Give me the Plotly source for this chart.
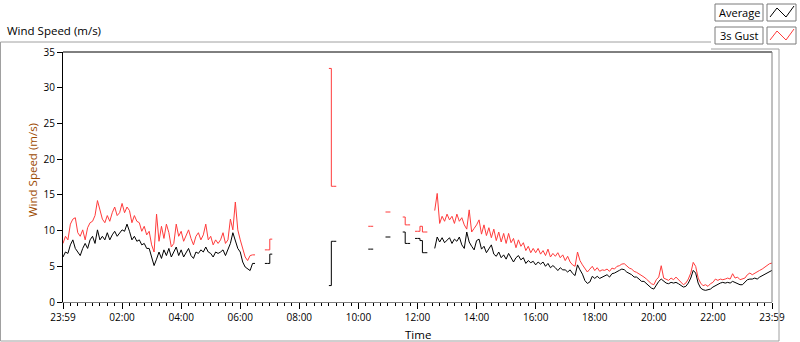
import plotly.graph_objects as go

# ---------------- data (5-minute samples, minutes since 23:59) ----------------
SAMPLE_MIN = 5

seg_starts = [0, 410, 540, 620, 655, 690, 715, 755]
seg_dense = [True, False, False, False, False, False, False, True]

avg_segs = [
    [6.3, 7.0, 6.8, 8.0, 8.7, 7.5, 7.0, 6.5, 7.5, 8.2, 7.5, 8.7, 9.2, 8.2, 10.1, 8.7, 9.2, 8.7, 9.7, 8.7,
     9.4, 9.9, 9.2, 9.7, 10.1, 9.9, 10.9, 9.9, 8.7, 9.2, 8.5, 8.7, 8.0, 8.2, 7.5, 7.5, 6.3, 5.1, 6.0, 7.0,
     6.1, 7.3, 6.5, 7.5, 6.3, 7.0, 7.7, 6.5, 7.3, 6.3, 7.0, 7.5, 6.5, 6.1, 7.0, 6.8, 7.3, 7.0, 7.7, 7.0,
     6.8, 6.3, 7.0, 6.8, 7.0, 7.3, 6.5, 7.3, 8.2, 9.7, 8.7, 7.5, 7.0, 5.6, 4.9, 4.6, 4.4, 5.4, 5.4],
    [5.4, 5.4, 6.7, 6.7],
    [2.3, 8.5, 8.5, 8.5],
    [7.4, 7.4, 7.4],
    [9.1, 9.1, 9.1],
    [9.8, 8.2, 8.2, 8.2],
    [8.9, 8.9, 8.6, 6.9, 6.9, 6.9],
    [7.5, 9.1, 8.4, 9.0, 8.3, 8.6, 9.0, 8.2, 8.8, 8.5, 9.1, 8.0, 7.5, 9.8, 8.4, 7.8, 7.3, 8.6, 8.8, 7.4,
     7.8, 6.9, 7.4, 8.0, 6.7, 6.4, 7.0, 6.2, 6.6, 6.0, 6.8, 6.1, 5.6, 6.2, 6.5, 5.9, 6.2, 5.4, 5.8, 5.5,
     5.7, 5.2, 5.6, 5.3, 5.6, 5.0, 5.4, 4.8, 5.1, 4.8, 4.4, 4.8, 4.5, 4.5, 4.2, 4.5, 4.0, 3.7, 5.2, 4.5,
     3.9, 3.0, 2.6, 2.8, 3.6, 3.3, 3.6, 3.3, 3.5, 3.59, 3.82, 3.49, 3.96, 4.05, 4.19, 4.43, 4.61, 4.52, 4.19,
     4.05, 3.82, 3.49, 3.49, 3.21, 2.89, 2.89, 2.56, 2.19, 1.95, 1.81, 2.42, 2.89, 3.21, 2.89, 2.65, 2.56, 2.75, 2.65,
     2.75, 2.56, 2.28, 2.09, 2.19, 2.65, 3.35, 4.43, 4.05, 2.65, 1.95, 1.72, 1.63, 1.72, 1.81, 2.09, 2.28, 2.56, 2.65,
     2.75, 2.65, 2.75, 2.65, 2.89, 2.75, 2.65, 2.42, 2.42, 2.75, 3.12, 3.21, 3.21, 3.35, 3.21, 3.49, 3.68, 3.96, 4.05,
     4.29, 4.43],
]

gust_segs = [
    [8.2, 9.2, 8.7, 10.9, 11.6, 11.8, 9.7, 9.2, 10.1, 8.7, 10.4, 11.1, 11.3, 12.1, 14.2, 12.8, 11.6, 11.1, 12.1, 11.3,
     12.5, 13.3, 12.1, 12.5, 13.8, 12.5, 13.3, 12.8, 11.1, 12.1, 11.3, 11.1, 9.9, 10.6, 9.4, 9.9, 8.0, 7.0, 12.3, 8.5,
     10.6, 8.9, 10.9, 9.7, 7.7, 8.2, 10.9, 9.2, 9.9, 8.5, 9.2, 10.1, 8.9, 8.0, 9.2, 9.7, 8.7, 9.4, 10.9, 8.7,
     9.2, 8.0, 8.7, 8.2, 8.7, 9.7, 8.2, 8.7, 11.6, 10.1, 14.0, 10.1, 8.7, 7.3, 6.3, 5.8, 6.5, 6.6, 6.6],
    [7.3, 7.3, 8.8, 8.8],
    [32.7, 16.2, 16.2, 16.2],
    [10.6, 10.6, 10.6],
    [12.6, 12.6, 12.6],
    [11.9, 10.8, 10.8, 10.8],
    [9.9, 9.9, 10.6, 9.8, 9.8, 9.8],
    [12.8, 15.2, 11.0, 12.0, 11.3, 12.3, 11.5, 12.0, 11.0, 12.3, 11.3, 11.8, 10.8, 10.2, 12.9, 9.8, 10.3, 10.8, 11.5, 9.5,
     10.8, 9.3, 10.4, 9.0, 10.2, 8.6, 9.8, 8.4, 9.6, 8.2, 9.6, 8.3, 8.9, 7.6, 8.7, 7.8, 8.3, 7.2, 7.8, 6.9,
     7.5, 6.9, 7.5, 6.7, 7.2, 6.5, 7.4, 6.3, 6.8, 6.4, 6.9, 6.2, 6.6, 5.8, 6.4, 5.6, 5.2, 5.0, 7.0, 5.8,
     5.2, 4.6, 4.2, 4.6, 5.0, 4.4, 4.8, 4.3, 4.5, 4.43, 4.61, 4.29, 4.75, 4.61, 4.99, 5.08, 5.31, 5.36, 4.99,
     4.75, 4.61, 4.29, 4.15, 3.96, 3.68, 3.49, 3.21, 2.89, 2.56, 2.42, 3.12, 3.49, 5.08, 3.35, 3.21, 3.03, 3.35, 3.12,
     3.49, 3.12, 2.75, 2.42, 2.65, 3.21, 4.05, 5.55, 4.99, 3.35, 2.65, 2.28, 2.42, 2.19, 2.56, 2.75, 3.21, 3.03, 3.21,
     3.12, 3.21, 3.35, 3.21, 3.96, 3.35, 3.49, 3.12, 3.21, 3.35, 3.82, 4.05, 3.82, 4.05, 4.29, 4.43, 4.61, 4.89, 5.08,
     5.36, 5.45],
]

tick_minutes = [0, 120, 240, 360, 480, 600, 720, 840, 960, 1080, 1200, 1320, 1440]
tick_labels = ["23:59", "02:00", "04:00", "06:00", "08:00", "10:00", "12:00",
               "14:00", "16:00", "18:00", "20:00", "22:00", "23:59"]
y_ticks = [0, 5, 10, 15, 20, 25, 30, 35]


def build(segs, dense):
    xs, ys = [], []
    for start, vals, d in zip(seg_starts, segs, seg_dense):
        if d != dense:
            continue
        for i, v in enumerate(vals):
            xs.append(start + i * SAMPLE_MIN)
            ys.append(v)
        xs.append(None)
        ys.append(None)
    return xs, ys


# ---------------- figure ----------------
W, H = 800, 342
L, R, T, B = 63, 772, 52, 302  # plot area in pixels
FONT = "Open Sans"
BLACK, RED = "#000000", "#FF3B3B"


def px(x):
    return (x - L) / (R - L)


def py(y):
    return (B - y) / (B - T)


fig = go.Figure()
for segs, name, color in [(avg_segs, "Average", BLACK), (gust_segs, "3s Gust", RED)]:
    for dense, shape in [(True, "linear"), (False, "hv")]:
        xs, ys = build(segs, dense)
        fig.add_trace(go.Scatter(x=xs, y=ys, mode="lines", name=name,
                                 line=dict(color=color, width=1, shape=shape),
                                 connectgaps=False, showlegend=False))

fig.update_layout(
    width=W, height=H,
    margin=dict(l=L, r=W - R, t=T, b=H - B, pad=0),
    paper_bgcolor="white", plot_bgcolor="white",
    font=dict(family=FONT, size=11, color="black"),
    showlegend=False,
)

fig.update_xaxes(
    range=[0, 1440], tickmode="array", tickvals=tick_minutes, ticktext=tick_labels,
    ticks="outside", ticklen=6, tickwidth=1, tickcolor="black",
    minor=dict(tickmode="linear", tick0=0, dtick=15, ticks="outside", ticklen=3, tickcolor="black", showgrid=False),
    showgrid=False, zeroline=False, showline=True, linecolor="#808080", linewidth=1,
    tickfont=dict(family=FONT, size=10), fixedrange=True,
)
fig.update_yaxes(
    range=[0, 35], tickmode="array", tickvals=y_ticks,
    ticks="outside", ticklen=5, tickwidth=1, tickcolor="black",
    showgrid=False, zeroline=False, showline=True, linecolor="black", linewidth=1,
    tickfont=dict(family=FONT, size=10), fixedrange=True,
)

shapes = []


def line(x0, y0, x1, y1, color, w=1):
    shapes.append(dict(type="line", xref="paper", yref="paper",
                       x0=px(x0), y0=py(y0), x1=px(x1), y1=py(y1),
                       line=dict(color=color, width=w), layer="above"))


# plot area frame
line(L, T, R, T, "black")
line(R, T, R, B, "#808080")
# outer panel
line(0.5, 42, 711, 42, "#a0a0a0")
line(0.5, 42, 0.5, 341, "#a0a0a0")
line(0.5, 341, 779, 341, "#a0a0a0")
line(779, 49, 779, 341, "#a0a0a0")
line(711, 49, 779, 49, "#a0a0a0")

# legend boxes
for (y0, y1) in [(4, 21), (27, 44)]:
    for (x0, x1) in [(715, 763), (767, 796)]:
        shapes.append(dict(type="rect", xref="paper", yref="paper",
                           x0=px(x0), x1=px(x1), y0=py(y1), y1=py(y0),
                           line=dict(color="#7a7a7a", width=1), fillcolor="white", layer="above"))


def zig(y0, color):
    pts = [(770, y0 + 13), (777, y0 + 4), (786, y0 + 13), (794, y0 + 2)]
    path = "M " + " L ".join(f"{px(x)},{py(y)}" for x, y in pts)
    shapes.append(dict(type="path", xref="paper", yref="paper", path=path,
                       line=dict(color=color, width=1), layer="above"))


zig(4, BLACK)
zig(27, RED)

annotations = [
    dict(text="Wind Speed (m/s)", xref="paper", yref="paper", x=px(5), y=py(31),
         xanchor="left", yanchor="middle", showarrow=False, font=dict(size=11.5, family=FONT)),
    dict(text="Wind Speed (m/s)", xref="paper", yref="paper", x=px(32), y=py(170),
         xanchor="center", yanchor="middle", textangle=-90, showarrow=False,
         font=dict(size=11.5, family=FONT, color="#9C4A00")),
    dict(text="Time", xref="paper", yref="paper", x=px(417.5), y=py(334),
         xanchor="center", yanchor="middle", showarrow=False, font=dict(size=11.5, family=FONT)),
    dict(text="Average", xref="paper", yref="paper", x=px(739), y=py(12.5),
         xanchor="center", yanchor="middle", showarrow=False, font=dict(size=11, family=FONT)),
    dict(text="3s Gust", xref="paper", yref="paper", x=px(739), y=py(35.5),
         xanchor="center", yanchor="middle", showarrow=False, font=dict(size=11, family=FONT)),
]

fig.update_layout(shapes=shapes, annotations=annotations)
fig.write_html("out.html", config={"displayModeBar": False},
               post_script="document.body.style.margin='0';document.body.style.overflow='hidden';")
